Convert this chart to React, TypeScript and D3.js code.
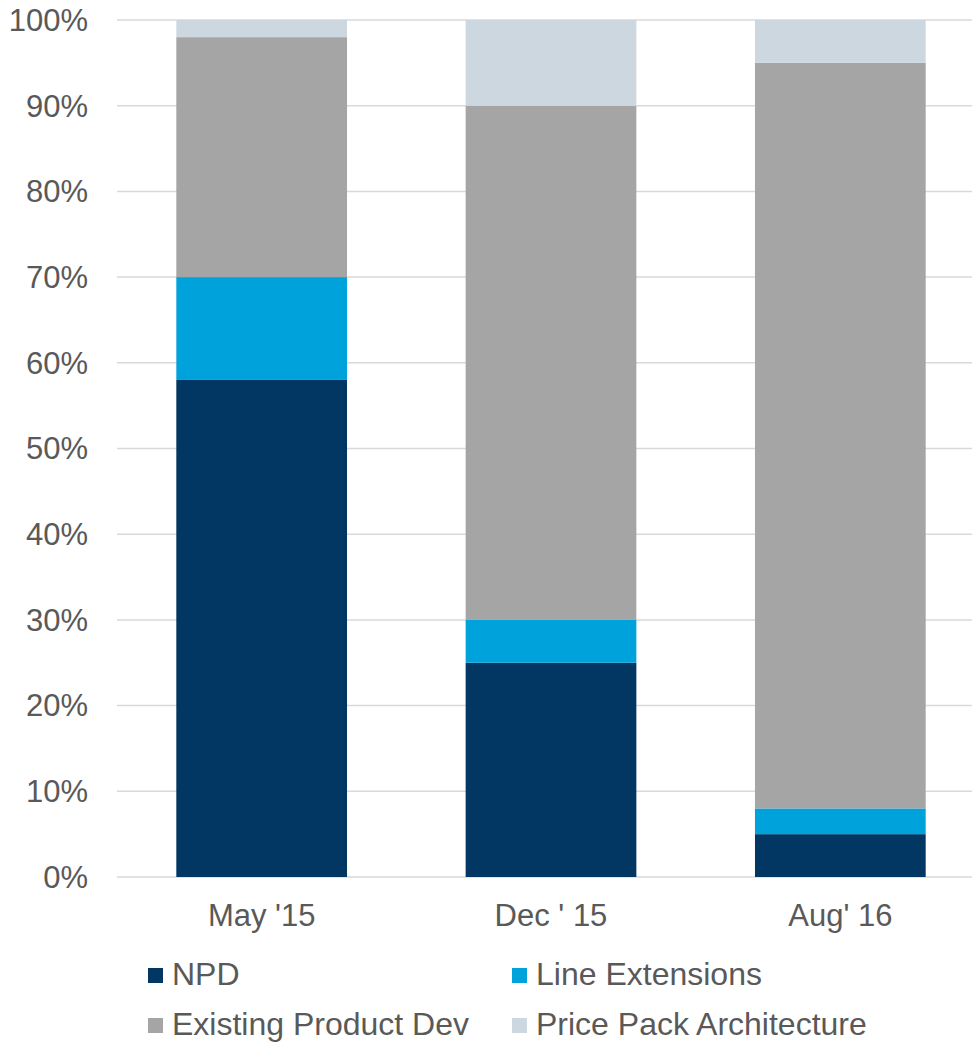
import React from 'react';
import * as d3 from 'd3';

const categories = ["May '15", "Dec ' 15", "Aug' 16"];
const seriesNames = ['NPD', 'Line Extensions', 'Existing Product Dev', 'Price Pack Architecture'];
const npd = [58, 25, 5];
const lineExtensions = [12, 5, 3];
const existingProductDev = [28, 60, 87];
const pricePackArchitecture = [2, 10, 5];
const yTicks = [0, 10, 20, 30, 40, 50, 60, 70, 80, 90, 100];

const colors = ['#023764', '#00A2DB', '#A5A5A5', '#CDD7E0'];

const W = 972;
const H = 1042;
const font = '"Liberation Sans", Arial, sans-serif';
const textColor = '#595959';

export default function App() {
  const rows = categories.map((c, i) => ({
    cat: c,
    NPD: npd[i],
    'Line Extensions': lineExtensions[i],
    'Existing Product Dev': existingProductDev[i],
    'Price Pack Architecture': pricePackArchitecture[i],
  }));

  const stacked = d3.stack<any>().keys(seriesNames)(rows);

  const x = d3.scaleBand().domain(categories).range([117, 985]).paddingInner(0.41).paddingOuter(0.205);
  const y = d3.scaleLinear().domain([0, 100]).range([877, 20]);

  // legend layout: 2 columns, 2 rows
  const legendCols = [148, 512];
  const legendRows = [968, 1018];

  return (
    <svg width={W} height={H} style={{ position: 'absolute', left: 0, top: 0 }} fontFamily={font}>
      {yTicks.map((t) => (
        <g key={t}>
          <line x1={117} x2={W} y1={y(t)} y2={y(t)} stroke="#D9D9D9" strokeWidth={1.5} />
          <text x={88} y={y(t)} dy="0.35em" textAnchor="end" fontSize={31} fill={textColor}>
            {t}%
          </text>
        </g>
      ))}
      {stacked.map((s, si) => (
        <g key={s.key} fill={colors[si]}>
          {s.map((d, i) => (
            <rect
              key={i}
              x={x(categories[i])}
              width={x.bandwidth()}
              y={y(d[1])}
              height={y(d[0]) - y(d[1])}
            />
          ))}
        </g>
      ))}
      {categories.map((c) => (
        <text key={c} x={(x(c) as number) + x.bandwidth() / 2} y={926} textAnchor="middle" fontSize={31} fill={textColor}>
          {c}
        </text>
      ))}
      {seriesNames.map((name, i) => {
        const lx = legendCols[i % 2];
        const ly = legendRows[Math.floor(i / 2)];
        return (
          <g key={name}>
            <rect x={lx} y={ly} width={15} height={15} fill={colors[i]} />
            <text x={lx + 24} y={ly + 17} fontSize={32} fill={textColor}>
              {name}
            </text>
          </g>
        );
      })}
    </svg>
  );
}
